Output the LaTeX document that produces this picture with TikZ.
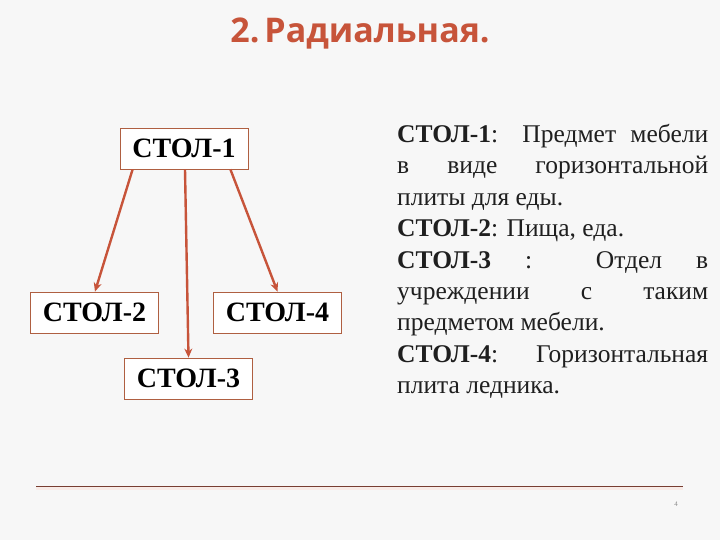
\documentclass[tikz,border=0pt]{standalone}
\usepackage{fontspec}
\setmainfont{Liberation Serif}
\newfontfamily\titlefont{Open Sans}
\usetikzlibrary{arrows.meta}
\definecolor{rust}{RGB}{199,84,58}
\definecolor{boxline}{RGB}{175,95,65}
\definecolor{rule}{RGB}{120,62,50}
\begin{document}
\begin{tikzpicture}[x=1pt,y=-1pt,
 stol/.style={draw=boxline,line width=.8pt,fill=white,minimum width=128pt,minimum height=41pt,inner sep=0pt,font=\fontsize{28}{28}\selectfont\bfseries},
 link/.style={draw=rust,line width=2.4pt,-{Stealth[length=9pt,width=8pt]}}]
\fill[black!3] (0,0) rectangle (720,540);
\useasboundingbox (0,0) rectangle (720,540);
% title
\node[anchor=base,text=rust,font=\titlefont\bfseries\fontsize{34}{34}\selectfont] (title) at (360,43){2.\hspace{5pt}Радиальная.};
% boxes and arrows
\foreach \n/\x/\y in {1/184/148.5,2/94.5/312.5,4/277.5/312.5,3/188.5/378.5}{\node[stol] (s\n) at (\x,\y){СТОЛ-\n};}
\draw[link] ([xshift=13pt]s1.south west) -- ([xshift=.5pt]s2.north);
\draw[link] ([xshift=1pt]s1.south) -- (s3.north);
\draw[link] ([xshift=-18pt]s1.south east) -- (s4.north);
% meanings
\node[anchor=north west,text width=311pt,align=justify,inner sep=0pt,text=black!88,font=\fontsize{25.5}{31.4}\selectfont] (desc) at (397,124){\tolerance=10000\relax\hyphenpenalty=10000\relax
\textbf{СТОЛ-1}: Предмет мебели\linebreak в виде горизонтальной\linebreak плиты для еды.\newline \textbf{СТОЛ-2}: Пища, еда.\newline \textbf{СТОЛ-3} : Отдел в\linebreak учреждении с таким\linebreak предметом мебели.\newline \textbf{СТОЛ-4}: Горизонтальная\linebreak плита ледника.};
% footer
\coordinate (rl) at (36,486);\coordinate (rr) at (683,486);
\draw[rust!12,line width=3pt] ([yshift=-2.5pt]rl) -- ([yshift=-2.5pt]rr);
\draw[rule,line width=1pt] (rl) -- (rr);
\node[font=\fontsize{7}{7}\selectfont,text=black!45] (pg) at (676,504){4};
\end{tikzpicture}
\end{document}
